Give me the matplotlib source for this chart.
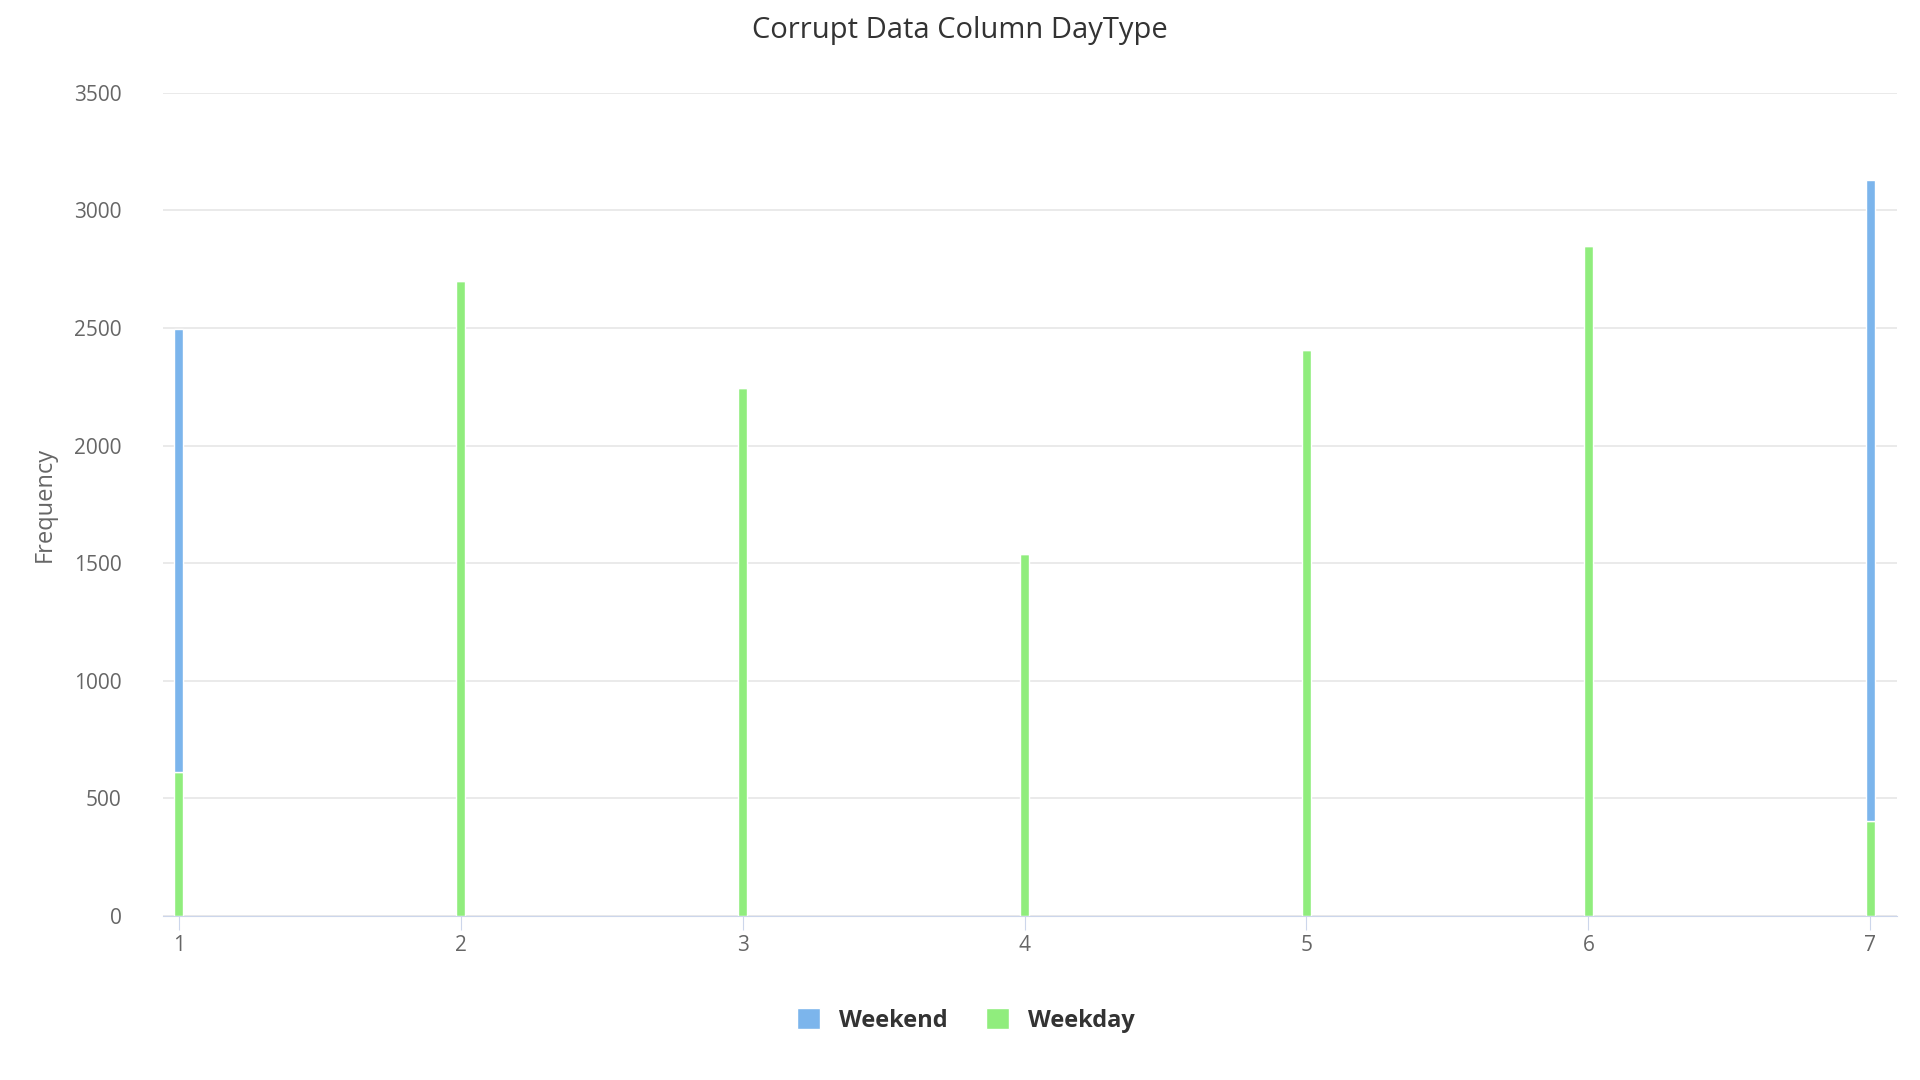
import matplotlib.pyplot as plt
import numpy as np

days = [1, 2, 3, 4, 5, 6, 7]
weekday = [610, 2700, 2245, 1540, 2405, 2850, 405]
weekend = [1885, 0, 0, 0, 0, 0, 2725]

plt.rcParams['font.family'] = ['Open Sans', 'DejaVu Sans']
fig = plt.figure(figsize=(19.2, 10.8), dpi=100)
ax = fig.add_axes([0.085, 0.152, 0.903, 0.762])

ax.bar(days, weekday, width=0.032, color='#90ed7d', edgecolor='white', linewidth=1, label='Weekday')
ax.bar(days, weekend, width=0.032, bottom=weekday, color='#7cb5ec', edgecolor='white', linewidth=1, label='Weekend')

ax.set_xlim(0.944, 7.095)
ax.set_ylim(0, 3500)
ax.set_yticks(np.arange(0, 3501, 500))
ax.set_xticks(days)
ax.grid(axis='y', color='#e6e6e6', linewidth=1.2)
ax.set_axisbelow(True)
for s in ['top', 'right', 'left']:
    ax.spines[s].set_visible(False)
ax.spines['bottom'].set_color('#ccd6eb')
ax.tick_params(axis='y', length=0, labelsize=15, colors='#666666', pad=30)
ax.tick_params(axis='x', length=10, color='#ccd6eb', labelsize=15, labelcolor='#666666')
ax.set_ylabel('Frequency', fontsize=17, color='#666666', labelpad=12)
fig.suptitle('Corrupt Data Column DayType', fontsize=21, color='#333333', y=0.985)

h, l = ax.get_legend_handles_labels()
leg = fig.legend(h[::-1], l[::-1], loc='center', bbox_to_anchor=(0.503, 0.055), ncol=2, frameon=False,
                 prop={'size': 17, 'weight': 'bold'}, handlelength=1, handleheight=1, columnspacing=1.6)
for t in leg.get_texts():
    t.set_color('#333333')

fig.savefig('out.png')
